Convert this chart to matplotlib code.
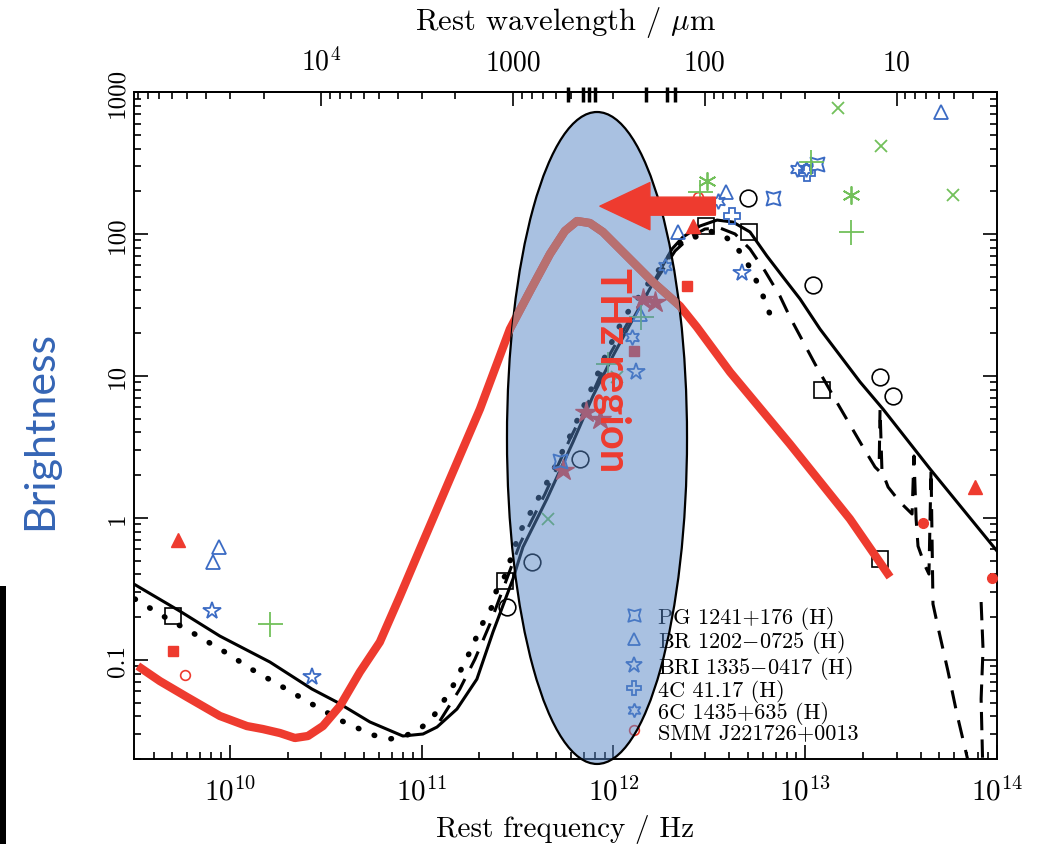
import numpy as np
import matplotlib.pyplot as plt
import matplotlib.patches as mpatches
from matplotlib.lines import Line2D
from matplotlib.path import Path
from matplotlib.ticker import FuncFormatter, NullFormatter, FixedLocator

plt.rcParams['font.family'] = ['cmr10', 'DejaVu Serif']
plt.rcParams['mathtext.fontset'] = 'cm'
plt.rcParams['axes.formatter.use_mathtext'] = True

# model SEDs, log10(nu/Hz) and log10(S)
solid_lognu = [9.499, 9.739, 9.948, 10.209, 10.428, 10.558, 10.730, 10.902, 11.007, 11.080,
               11.184, 11.288, 11.372, 11.476, 11.528, 11.653, 11.789, 11.893, 11.997, 12.102,
               12.305, 12.362, 12.451, 12.540, 12.623, 12.712, 12.800, 12.884, 12.973, 13.077,
               13.286, 13.405, 13.651, 14.000]
solid_logS = [-0.466, -0.657, -0.833, -1.016, -1.206, -1.298, -1.438, -1.537, -1.523, -1.474,
              -1.347, -1.136, -0.804, -0.431, -0.206, 0.133, 0.534, 0.858, 1.140, 1.401,
              1.894, 1.978, 2.056, 2.098, 2.084, 2.014, 1.845, 1.697, 1.542, 1.330,
              0.957, 0.767, 0.344, -0.234]

dot_lognu = [9.505, 9.661, 9.817, 9.974, 10.120, 10.276, 10.428, 10.584, 10.746, 10.834,
             10.913, 10.991, 11.059, 11.111, 11.158, 11.199, 11.241, 11.288, 11.319, 11.366,
             11.392, 11.434, 11.512, 11.669, 11.773, 11.862, 11.966, 12.050, 12.190, 12.331,
             12.373, 12.425, 12.503, 12.587, 12.649, 12.701, 12.743, 12.780, 12.82]
dot_logS = [-0.572, -0.699, -0.819, -0.945, -1.072, -1.192, -1.312, -1.431, -1.530, -1.558,
            -1.537, -1.488, -1.403, -1.298, -1.199, -1.086, -0.974, -0.833, -0.741, -0.628,
            -0.501, -0.410, -0.100, 0.288, 0.576, 0.837, 1.168, 1.401, 1.668, 1.908,
            1.964, 1.978, 2.021, 1.978, 1.894, 1.788, 1.676, 1.563, 1.42]

dash_lognu = [11.095, 11.199, 11.278, 11.356, 11.434, 11.512, 11.643, 11.773, 11.877, 11.982,
              12.086, 12.216, 12.321, 12.399, 12.477, 12.555, 12.634, 12.712, 12.790, 12.868,
              12.920, 13.051, 13.155, 13.301, 13.364, 13.385, 13.390, 13.400, 13.432, 13.494,
              13.557, 13.567, 13.578, 13.588, 13.625, 13.645, 13.656, 13.666, 13.692, 13.744,
              13.791, 13.844, 13.870]
dash_logS = [-1.431, -1.206, -0.995, -0.748, -0.466, -0.184, 0.168, 0.555, 0.837, 1.154,
             1.401, 1.661, 1.880, 1.978, 2.035, 2.042, 2.000, 1.894, 1.739, 1.563,
             1.415, 1.084, 0.837, 0.499, 0.358, 0.330, 0.767, 0.330, 0.217, 0.111,
             0.027, 0.436, -0.008, -0.199, -0.339, -0.396, 0.344, -0.607, -0.769, -1.079,
             -1.382, -1.685, -1.840]
dash2_lognu = [13.917, 13.927, 13.917, 13.927]
dash2_logS = [-0.593, -0.924, -1.276, -1.840]

# sketched "THz" curve
thz_lognu = [9.520, 9.635, 9.776, 9.948, 10.089, 10.172, 10.261, 10.339, 10.407, 10.485,
             10.574, 10.678, 10.782, 10.887, 10.991, 11.147, 11.304, 11.460, 11.565, 11.669,
             11.747, 11.810, 11.877, 11.945, 12.206, 12.347, 12.435, 12.608, 12.920, 13.233,
             13.442]
thz_logS = [-1.044, -1.150, -1.262, -1.396, -1.467, -1.488, -1.516, -1.551, -1.537, -1.467,
            -1.326, -1.086, -0.875, -0.551, -0.220, 0.273, 0.767, 1.330, 1.598, 1.859,
            2.021, 2.091, 2.077, 2.014, 1.661, 1.492, 1.344, 1.027, 0.520, -0.008,
            -0.417]

# lines poking through the top axis
top_line_nu = [5.8e11, 6.9e11, 7.5e11, 8.0e11, 1.48e12, 1.9e12, 2.1e12]

# photometry
blk_sq_nu = [5.04e9, 2.72e11, 3.03e12, 5.1e12, 1.22e13, 2.46e13]
blk_sq_S = [0.203, 0.359, 114, 103, 7.9, 0.513]
blk_ci_nu = [2.79e11, 3.76e11, 6.68e11, 5.02e12, 1.1e13, 2.46e13, 2.87e13]
blk_ci_S = [0.235, 0.489, 2.59, 179, 44, 9.8, 7.2]
red_tri_nu = [5.36e9, 2.6e12, 7.68e13]
red_tri_S = [0.698, 114, 1.65]
red_sq_nu = [5.04e9, 1.28e12, 2.42e12]
red_sq_S = [0.115, 15, 43]
red_ci_nu = [4.11e13, 9.42e13]
red_ci_S = [0.918, 0.377]
red_star_nu = [5.46e11, 7.19e11, 8.5e11, 1.43e12, 1.64e12]
red_star_S = [2.17, 5.56, 4.97, 34.8, 33]
smm_nu = [5.82e9, 2.75e12]
smm_S = [0.078, 182]
pg_nu = [5.25e11, 6.79e12, 1.15e13]
pg_S = [2.5, 179, 311]
br_nu = [8.77e9, 8.15e9, 1.37e12, 2.17e12, 3.87e12, 5.1e13]
br_S = [0.62, 0.489, 27.3, 103, 197, 723]
bri_nu = [8.06e9, 2.68e10, 1.31e12, 4.68e12]
bri_S = [0.22, 0.0757, 10.6, 53]
c4_nu = [4.15e12, 1.02e13]
c4_S = [134, 269]
c6_nu = [1.25e12, 1.86e12, 3.51e12, 9.06e12, 1.01e13]
c6_S = [18.8, 59.4, 171, 287, 287]
grn_x_nu = [4.55e11, 1.04e12, 1.48e13, 2.48e13, 5.9e13]
grn_x_S = [0.98, 9.8, 771, 417, 188]
grn_p_nu = [1.62e10, 9.36e11, 1.4e12, 2.82e12, 1.07e13, 1.73e13]
grn_p_S = [0.18, 12.1, 26, 197, 321, 103]
grn_s_nu = [3.07e12, 1.73e13]
grn_s_S = [236, 188]

legend_labels = ['PG 1241+176 (H)', 'BR 1202$-$0725 (H)', 'BRI 1335$-$0417 (H)',
                 '4C 41.17 (H)', '6C 1435+635 (H)', 'SMM J221726+0013']

# wavelength ticks for the top axis (micron)
lam_major = [1e4, 1e3, 1e2, 10]
lam_minor = [m * d for d in [1, 10, 100, 1000, 1e4] for m in range(2, 10)]

blue = '#3b6bc4'
green = '#72c05a'
red = '#ee3b2f'

squircle = Path([(-1, -1), (0, -0.7), (1, -1), (0.7, 0), (1, 1), (0, 0.7), (-1, 1), (-0.7, 0), (-1, -1)],
                closed=True)
hexagram = (6, 1, 0)

fig = plt.figure(figsize=(10.45, 8.45), dpi=100)
ax = fig.add_axes([0.1282, 0.1006, 0.8259, 0.7893])

ax.plot(10 ** np.array(solid_lognu), 10 ** np.array(solid_logS), color='k', lw=2.2, zorder=2)
ax.plot(10 ** np.array(dot_lognu), 10 ** np.array(dot_logS), color='k', lw=4,
        ls=(0, (0.1, 3.0)), dash_capstyle='round', zorder=2)
ax.plot(10 ** np.array(dash_lognu), 10 ** np.array(dash_logS), color='k', lw=2.2,
        ls=(0, (6, 4)), zorder=2)
ax.plot(10 ** np.array(dash2_lognu), 10 ** np.array(dash2_logS), color='k', lw=2.2,
        ls=(0, (6, 3)), zorder=2)
ax.vlines(top_line_nu, 850, 1080, colors='k', lw=2.5, clip_on=False, zorder=2)

mk = dict(ls='none', zorder=3)
ax.plot(blk_sq_nu, blk_sq_S, marker='s', ms=12, mfc='none', mec='k', mew=1.2, **mk)
ax.plot(blk_ci_nu, blk_ci_S, marker='o', ms=12, mfc='none', mec='k', mew=1.2, **mk)
ax.plot(red_tri_nu, red_tri_S, marker='^', ms=10, color=red, **mk)
ax.plot(red_sq_nu, red_sq_S, marker='s', ms=7, color=red, **mk)
ax.plot(red_ci_nu, red_ci_S, marker='o', ms=7, color=red, **mk)
ax.plot(red_star_nu, red_star_S, marker='*', ms=16, color=red, **mk)
ax.plot(smm_nu, smm_S, marker='o', ms=7, mfc='none', mec=red, mew=1.2, **mk)
ax.plot(pg_nu, pg_S, marker=squircle, ms=10, mfc='none', mec=blue, mew=1.4, **mk)
ax.plot(br_nu, br_S, marker='^', ms=10, mfc='none', mec=blue, mew=1.3, **mk)
ax.plot(bri_nu, bri_S, marker='*', ms=13, mfc='none', mec=blue, mew=1.3, **mk)
ax.plot(c4_nu, c4_S, marker='P', ms=11, mfc='none', mec=blue, mew=1.3, **mk)
ax.plot(c6_nu, c6_S, marker=hexagram, ms=11, mfc='none', mec=blue, mew=1.3, **mk)
ax.plot(grn_x_nu, grn_x_S, marker='x', ms=8, color=green, mew=1.3, **mk)
ax.plot(grn_p_nu, grn_p_S, marker='+', ms=18, color=green, mew=1.3, **mk)
ax.plot(grn_s_nu, grn_s_S, marker=(6, 2, 0), ms=13, color=green, mew=1.3, **mk)

thz_nu = 10 ** np.array(thz_lognu)
thz_S = 10 ** np.array(thz_logS)
ax.plot(thz_nu, thz_S, color=red, lw=6, solid_capstyle='butt', solid_joinstyle='round', zorder=4)

ax.set_xscale('log')
ax.set_yscale('log')
ax.set_xlim(10 ** 9.5, 1e14)
ax.set_ylim(0.02, 1000)

ax.tick_params(which='both', direction='in', right=True, top=False, width=1.2)
ax.tick_params(which='major', length=10)
ax.tick_params(which='minor', length=5)
ax.tick_params(axis='x', labelsize=21, pad=12)
ax.tick_params(axis='y', labelsize=18, pad=4)
ax.yaxis.set_major_formatter(FuncFormatter(lambda v, p: '0.1' if v < 0.5 else '%d' % round(v)))
ax.yaxis.set_minor_formatter(NullFormatter())
for lab in ax.get_yticklabels():
    lab.set_rotation(90)
    lab.set_va('center')
for sp in ax.spines.values():
    sp.set_linewidth(1.4)

ax.set_xlabel('Rest frequency / Hz', fontsize=21)
ax.xaxis.set_label_coords(0.5, -0.083)


def nu2lam(nu):
    return 2.998e14 / np.asarray(nu, dtype=float)


secax = ax.secondary_xaxis('top', functions=(nu2lam, nu2lam))
secax.xaxis.set_major_locator(FixedLocator(lam_major))
secax.xaxis.set_minor_locator(FixedLocator(lam_minor))
secax.tick_params(which='both', direction='in', width=1.2, labelsize=20, pad=12)
secax.tick_params(which='major', length=10)
secax.tick_params(which='minor', length=5)
secax.xaxis.set_major_formatter(FuncFormatter(lambda v, p: r'$10^4$' if v > 5000 else '%d' % round(v)))
secax.xaxis.set_minor_formatter(NullFormatter())
secax.spines['top'].set_linewidth(1.4)
fig.text(566 / 1045, 1 - 22 / 845, r'Rest wavelength / $\mu$m', ha='center', va='center', fontsize=22)

handles = [
    Line2D([], [], ls='none', marker=squircle, ms=9, mfc='none', mec=blue, mew=1.3),
    Line2D([], [], ls='none', marker='^', ms=9, mfc='none', mec=blue, mew=1.3),
    Line2D([], [], ls='none', marker='*', ms=12, mfc='none', mec=blue, mew=1.3),
    Line2D([], [], ls='none', marker='P', ms=10, mfc='none', mec=blue, mew=1.3),
    Line2D([], [], ls='none', marker=hexagram, ms=10, mfc='none', mec=blue, mew=1.3),
    Line2D([], [], ls='none', marker='o', ms=7, mfc='none', mec=red, mew=1.2),
]
leg = ax.legend(handles, legend_labels, loc='upper left', bbox_to_anchor=(0.567, 0.229),
                frameon=False, fontsize=16, handlelength=1.0, handletextpad=0.55,
                borderpad=0, borderaxespad=0, labelspacing=-0.06)
leg.set_zorder(5)

thz = mpatches.Ellipse((0.5365, 0.4813), 0.2086, 0.9775, transform=ax.transAxes, clip_on=False,
                       facecolor=(0.333, 0.522, 0.773, 0.5), edgecolor='k', lw=1.6, zorder=6)
ax.add_patch(thz)

# the sketched curve seen through the shaded region
inside, = ax.plot(thz_nu, thz_S, color='#b87070', lw=6, solid_capstyle='butt',
                  solid_joinstyle='round', zorder=6.5)
inside.set_clip_path(thz)

arrow = mpatches.FancyArrowPatch((3.4e12, 157), (8.5e11, 157),
                                 arrowstyle='simple,head_length=36,head_width=34,tail_width=13',
                                 mutation_scale=1, color=red, shrinkA=0, shrinkB=0, zorder=7)
ax.add_patch(arrow)

ax.text(9.9e11, 11.2, 'THz region', rotation=-90, ha='center', va='center', color=red,
        fontsize=30, weight='bold', family=['Lato', 'DejaVu Sans'], zorder=8)

fig.text(40 / 1045, 1 - 430 / 845, 'Brightness', rotation=90, ha='center', va='center',
         color='#3565b5', fontsize=31, family=['Lato', 'DejaVu Sans'])

fig.patches.append(mpatches.Rectangle((0, 0), 6 / 1045, 258 / 845, transform=fig.transFigure,
                                      facecolor='k', edgecolor='none'))

fig.savefig('out.png', dpi=100)
